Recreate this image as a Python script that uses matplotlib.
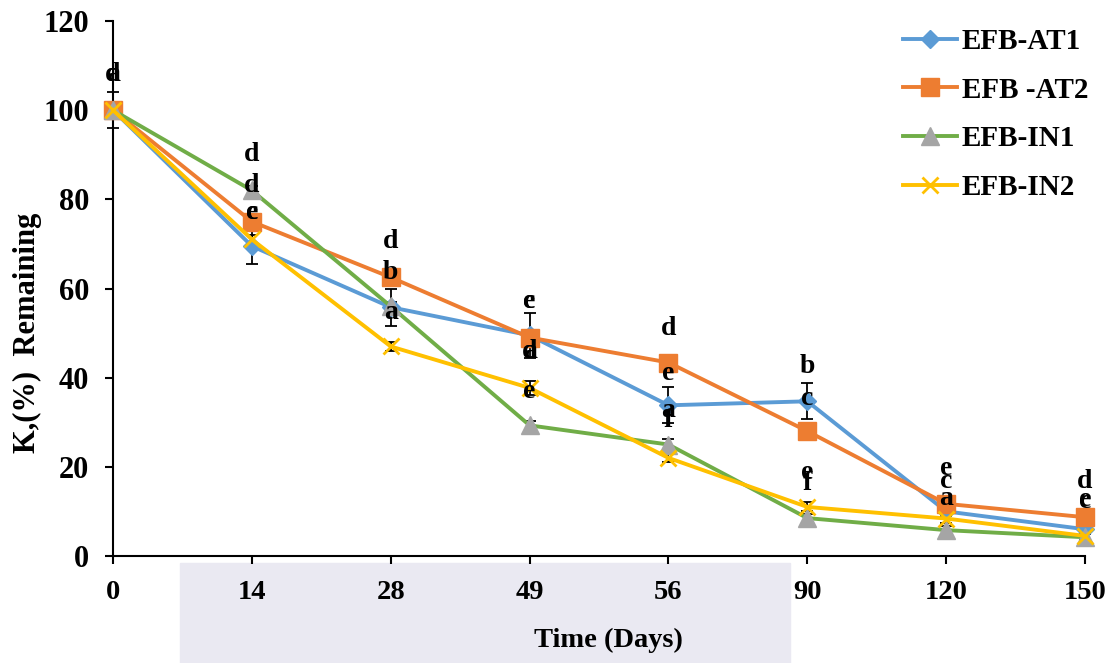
import numpy as np
import matplotlib.pyplot as plt
from matplotlib.patches import Rectangle

plt.rcParams['font.family'] = ['Liberation Serif', 'DejaVu Serif']
plt.rcParams['font.weight'] = 'bold'

days = ["0", "14", "28", "49", "56", "90", "120", "150"]

at1 = [100, 69.5, 55.8, 49.5, 33.8, 34.7, 10.0, 6.0]
at2 = [100, 75.0, 62.5, 49.0, 43.4, 28.0, 11.7, 8.7]
in1 = [100, 82.0, 56.0, 29.3, 25.0, 8.5, 5.8, 4.2]
in2 = [100, 71.0, 47.0, 37.7, 22.0, 11.0, 8.4, 4.5]

at1_err = [4.0, 4.0, 4.2, 5.0, 4.0, 4.0, 1.0, 1.0]
at2_err = [1.0, 1.0, 1.0, 1.0, 1.0, 1.0, 1.0, 1.0]
in1_err = [1.0, 1.0, 1.0, 1.0, 1.2, 1.0, 1.0, 2.0]
in2_err = [1.0, 1.0, 1.0, 1.5, 1.0, 1.0, 1.0, 1.0]

# significance letters: (day index, height, letter)
letters = [
    (0, 108, "a"), (0, 108, "d"),
    (1, 90, "d"), (1, 83, "d"), (1, 77, "c"), (1, 77, "e"),
    (2, 70.5, "d"), (2, 63.5, "b"), (2, 54.7, "a"),
    (3, 57, "c"), (3, 57, "e"), (3, 45.8, "a"), (3, 45.8, "d"), (3, 36.8, "e"),
    (4, 51, "d"), (4, 41, "e"), (4, 30.5, "f"), (4, 32.7, "a"),
    (5, 42.4, "b"), (5, 35.4, "c"), (5, 18.8, "e"), (5, 16.3, "f"),
    (6, 19.7, "e"), (6, 16.6, "c"), (6, 13, "a"),
    (7, 16.6, "d"), (7, 12.6, "e"), (7, 12.2, "c"),
]

series = [
    ("EFB-AT1", at1, at1_err, "#5B9BD5", "#5B9BD5", "D", 9.5),
    ("EFB -AT2", at2, at2_err, "#ED7D31", "#ED7D31", "s", 12.5),
    ("EFB-IN1", in1, in1_err, "#70AD47", "#A5A5A5", "^", 12.5),
    ("EFB-IN2", in2, in2_err, "#FFC000", "#FFC000", "x", 12),
]

fig = plt.figure(figsize=(11.2, 6.63), dpi=100)
# faint watermark band under the axis
fig.patches.append(Rectangle((180 / 1120, 0), 610 / 1120, 100 / 663,
                             transform=fig.transFigure, color="#eae9f2",
                             zorder=-10))

ax = fig.add_axes([0.1009, 0.1614, 0.8679, 0.8069])
ax.patch.set_alpha(0)
x = np.arange(len(days))

for name, vals, err, lc, mc, mk, ms in series:
    ax.errorbar(x, vals, yerr=err, fmt="none", ecolor="black", elinewidth=1.3,
                capsize=4, capthick=1.3, clip_on=False, zorder=2)
for name, vals, err, lc, mc, mk, ms in series:
    ax.plot(x, vals, color=lc, lw=2.8, marker=mk, ms=ms, mfc=mc, mec=mc,
            mew=2 if mk == "x" else 1, label=name, clip_on=False, zorder=3)

for i, h, t in letters:
    ax.text(x[i], h, t, ha="center", va="center", fontsize=20,
            fontweight="bold", zorder=5)

ax.set_xlim(0, len(days) - 1)
ax.set_ylim(0, 120)
ax.set_xticks(x)
ax.set_xticklabels(days)
ax.set_yticks(np.arange(0, 121, 20))
ax.tick_params(axis="both", length=6, width=1.5, direction="out", pad=11)
ax.tick_params(axis="x", labelsize=20.5)
ax.tick_params(axis="y", labelsize=22)
for s in ["top", "right"]:
    ax.spines[s].set_visible(False)
for s in ["left", "bottom"]:
    ax.spines[s].set_linewidth(1.5)

ax.set_xlabel("Time (Days)", fontsize=20.5, fontweight="bold")
ax.set_ylabel("K,(%)  Remaining", fontsize=22, fontweight="bold")
ax.xaxis.set_label_coords(0.510, -0.135)
ax.yaxis.set_label_coords(-0.073, 0.417)

ax.legend(loc="upper left", bbox_to_anchor=(903 / 1120, 1 - 28 / 663),
          bbox_transform=fig.transFigure, frameon=False,
          handlelength=1.85, handletextpad=0.17, labelspacing=0.74,
          borderpad=0, borderaxespad=0,
          prop={"weight": "bold", "size": 21})

fig.savefig("out.png", dpi=100)
